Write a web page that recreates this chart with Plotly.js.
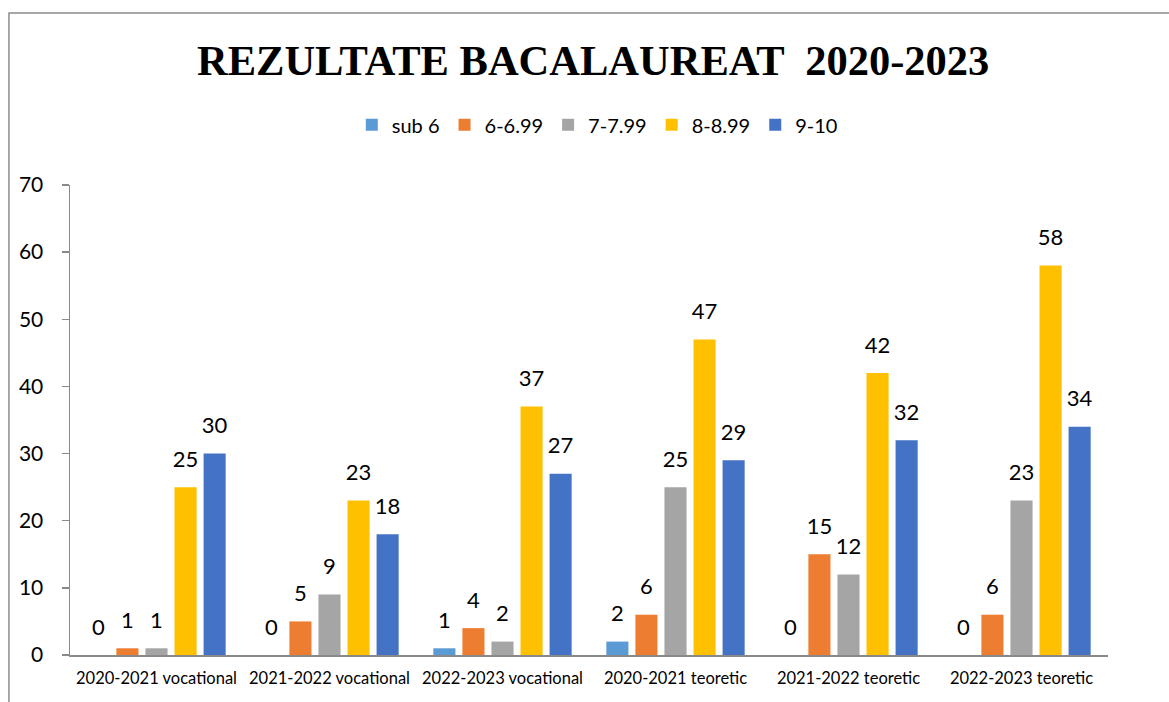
<!DOCTYPE html>
<html>
<head>
<meta charset="utf-8">
<script src="https://cdn.plot.ly/plotly-3.0.1.min.js"></script>
<style>html,body{margin:0;padding:0;background:#fff;}#chart{width:1169px;height:702px;}</style>
</head>
<body>
<div id="chart"></div>
<script>
const categories = ["2020-2021 vocational","2021-2022 vocational","2022-2023 vocational","2020-2021 teoretic","2021-2022 teoretic","2022-2023 teoretic"];
const seriesNames = ["sub 6","6-6.99","7-7.99","8-8.99","9-10"];
const sub6   = [0, 0, 1, 2, 0, 0];
const g6_699 = [1, 5, 4, 6, 15, 6];
const g7_799 = [1, 9, 2, 25, 12, 23];
const g8_899 = [25, 23, 37, 47, 42, 58];
const g9_10  = [30, 18, 27, 29, 32, 34];
const colors = ["#5B9BD5","#ED7D31","#A5A5A5","#FFC000","#4472C4"];
const yTicks = [0,10,20,30,40,50,60,70];

const seriesValues = [sub6, g6_699, g7_799, g8_899, g9_10];
const font = "Lato, 'Open Sans', 'Liberation Sans', sans-serif";

const barTraces = seriesValues.map((vals, i) => ({
  type: 'bar',
  name: seriesNames[i],
  x: categories,
  y: vals,
  marker: {color: colors[i]},
  hoverinfo: 'x+y+name'
}));

const labelTraces = seriesValues.map((vals, i) => ({
  type: 'scatter',
  mode: 'markers+text',
  name: seriesNames[i] + ' label',
  x: categories,
  y: vals,
  text: vals.map(String),
  textposition: 'top center',
  textfont: {family: font, size: 22, color: '#000'},
  marker: {size: 22, color: 'rgba(0,0,0,0)'},
  cliponaxis: false,
  showlegend: false,
  hoverinfo: 'skip'
}));

const layout = {
  width: 1169, height: 702,
  margin: {l: 70, r: 61, t: 185, b: 47},
  paper_bgcolor: '#fff', plot_bgcolor: '#fff',
  barmode: 'group',
  bargap: 0.16,
  bargroupgap: 0.24,
  scattermode: 'group',
  scattergap: 0.16,
  showlegend: true,
  title: {
    text: '<b>REZULTATE BACALAUREAT  2020-2023</b>',
    font: {family: "'Liberation Serif', 'Times New Roman', serif", size: 42.5, color: '#000'},
    x: 0.504, xref: 'paper', xanchor: 'center',
    y: 0.914, yref: 'container', yanchor: 'middle'
  },
  legend: {
    orientation: 'h',
    x: 0.508, xanchor: 'center',
    y: 1.128, yanchor: 'middle',
    font: {family: font, size: 20, color: '#000'},
    itemclick: false
  },
  xaxis: {
    type: 'category',
    showline: true, linecolor: '#898989', linewidth: 1.5,
    ticks: '', showgrid: false, zeroline: false,
    tickfont: {family: font, size: 16.5, color: '#000'},
    ticklabelstandoff: 8
  },
  yaxis: {
    range: [0, 70],
    tickvals: yTicks,
    ticktext: yTicks.map(String),
    showline: true, linecolor: '#898989', linewidth: 1.5,
    ticks: 'outside', ticklen: 7, tickcolor: '#898989', tickwidth: 1.5,
    showgrid: false, zeroline: false,
    tickfont: {family: font, size: 21, color: '#000'},
    ticklabelstandoff: 14
  },
  shapes: [{
    type: 'rect', xref: 'paper', yref: 'paper',
    x0: -0.0588, x1: 1.2, y0: -0.3, y1: 1.366,
    line: {color: '#8c8c8c', width: 1.5}, fillcolor: 'rgba(0,0,0,0)', layer: 'below'
  }]
};

Plotly.newPlot('chart', barTraces.concat(labelTraces), layout, {displayModeBar: false, staticPlot: true});
</script>
</body>
</html>
